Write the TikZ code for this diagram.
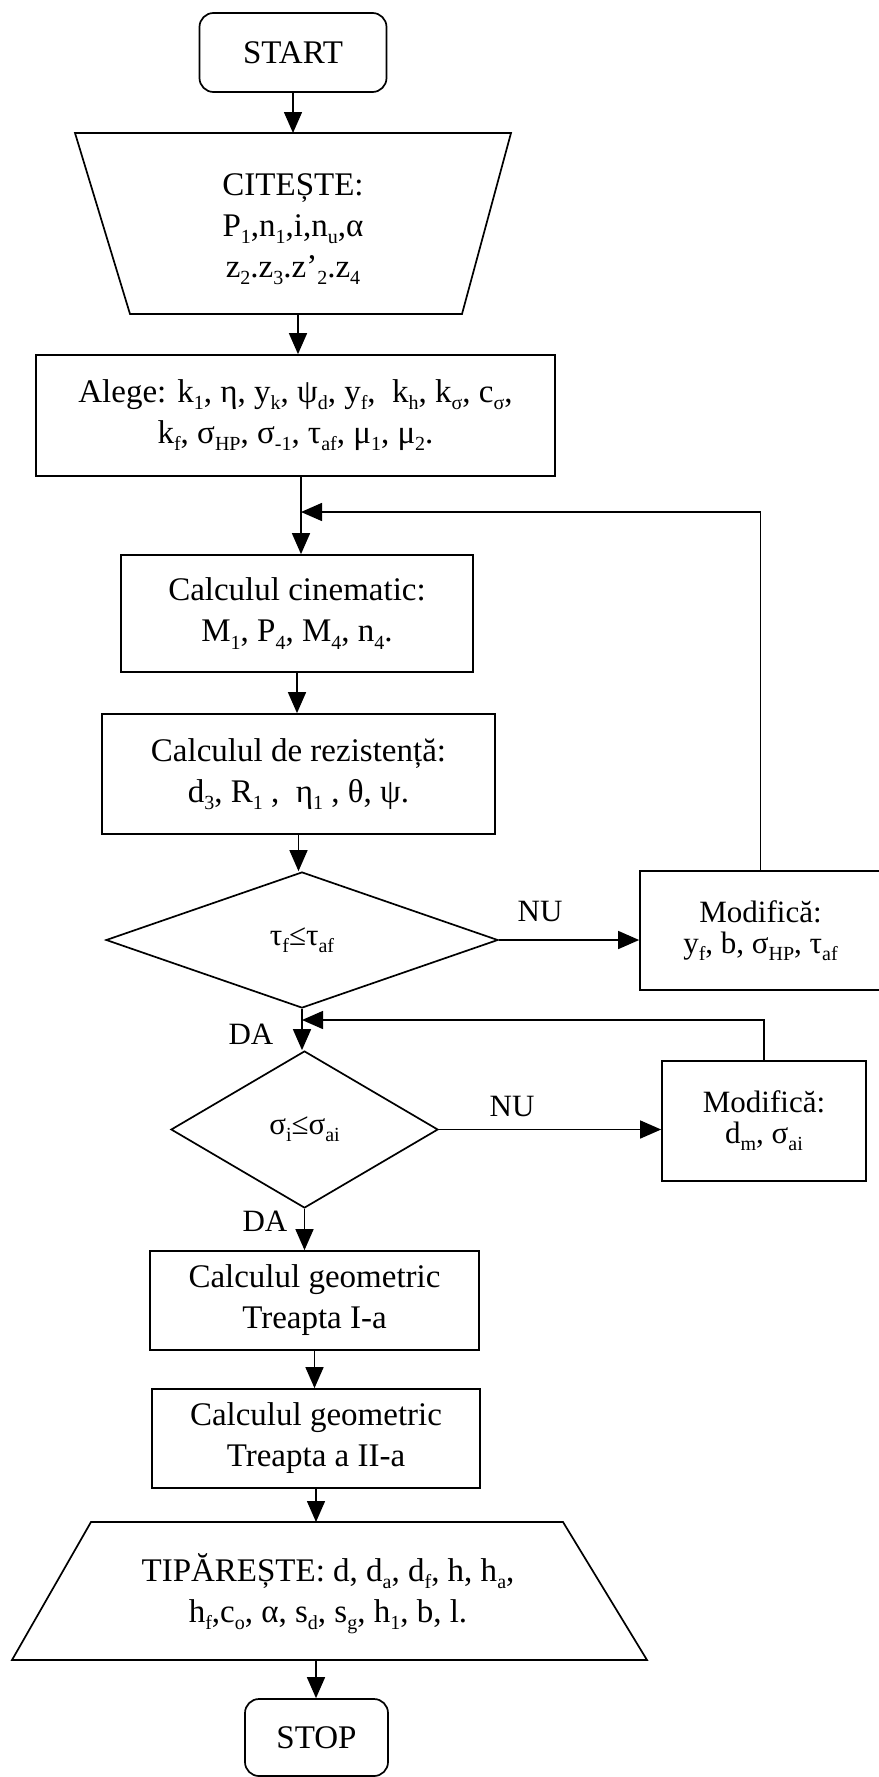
\documentclass[tikz,border=0pt]{standalone}
\usepackage{fontspec}
\setmainfont{Liberation Serif}
\usetikzlibrary{shapes.geometric,arrows.meta}
% text sizes
\newcommand\mainsz{\fontsize{33}{41}\selectfont}
\newcommand\lblsz{\fontsize{31}{31}\selectfont}
% lowered index in a smaller size
\newcommand\ix[1]{\raisebox{-0.22em}{\fontsize{20}{20}\selectfont #1}}

\begin{document}
\begin{tikzpicture}[x=1pt,y=-1pt,
  box/.style={draw,line width=1.7pt,rectangle,inner sep=0pt,align=center,font=\mainsz},
  term/.style={box,rounded corners=14pt},
  decision/.style={draw,line width=1.7pt,diamond,inner sep=0pt,align=center,font=\lblsz},
  io/.style={draw,line width=1.7pt,line join=miter},
  txt/.style={inner sep=0pt,align=center,font=\mainsz},
  lbl/.style={inner sep=0pt,font=\lblsz},
  wire/.style={line width=1.5pt},
  flow/.style={line width=1.5pt,-{Triangle[length=21pt,width=18pt]}}]

\useasboundingbox (0,0) rectangle (878,1777);

% start terminal
\node[term,minimum width=187pt,minimum height=79pt] (start) at (293,52.5) {START};

% input trapezoid
\draw[io] (75,133) -- (511,133) -- (462,314) -- (130,314) -- cycle;
\coordinate (citN) at (293,133);
\coordinate (citS) at (298,314);
\node[txt] (cit) at (293,229) {CITEȘTE:\\ P\ix{1},n\ix{1},i,n\ix{u},α\\ z\ix{2}.z\ix{3}.z’\ix{2}.z\ix{4}};

% processing boxes
\node[box,minimum width=519pt,minimum height=121pt] (alege) at (295.5,415.5)
  {Alege: k\ix{1}, η, y\ix{k}, ψ\ix{d}, y\ix{f},\ \ k\ix{h}, k\ix{σ}, c\ix{σ},\\ k\ix{f}, σ\ix{HP}, σ\ix{-1}, τ\ix{af}, μ\ix{1}, μ\ix{2}.};
\coordinate (j1) at (301,512);
\node[box,minimum width=352pt,minimum height=117pt] (cin) at (297,613.5)
  {Calculul cinematic:\\ M\ix{1}, P\ix{4}, M\ix{4}, n\ix{4}.};
\node[box,minimum width=393pt,minimum height=120pt] (rez) at (298.5,774)
  {Calculul de rezistență:\\ d\ix{3}, R\ix{1} ,\ \ η\ix{1} , θ, ψ.};

% first test
\node[decision,aspect=2.9,minimum width=392pt,minimum height=136pt] (d1) at (302,940) {τ\ix{f}≤τ\ix{af}};
\node[box,minimum width=241pt,minimum height=119pt,font=\lblsz] (mod1) at (760.5,930.5)
  {Modifică:\\ y\ix{f}, b, σ\ix{HP}, τ\ix{af}};
\coordinate (j2) at (302,1020);

% second test
\node[decision,aspect=1.7,minimum width=267pt,minimum height=157pt] (d2) at (304.5,1129.5) {σ\ix{i}≤σ\ix{ai}};
\node[box,minimum width=204pt,minimum height=120pt,font=\lblsz] (mod2) at (764,1121)
  {Modifică:\\ d\ix{m}, σ\ix{ai}};

% geometry boxes
\node[box,minimum width=329pt,minimum height=99pt] (g1) at (314.5,1300.5)
  {Calculul geometric\\ Treapta I-a};
\node[box,minimum width=328pt,minimum height=99pt] (g2) at (316,1438.5)
  {Calculul geometric\\ Treapta a II-a};

% output trapezoid
\draw[io] (91,1522) -- (563,1522) -- (647,1660) -- (12,1660) -- cycle;
\coordinate (tipN) at (316,1522);
\coordinate (tipS) at (316,1660);
\node[txt] (tip) at (328,1594)
  {TIPĂREȘTE: d, d\ix{a}, d\ix{f}, h, h\ix{a},\\ h\ix{f},c\ix{o}, α, s\ix{d}, s\ix{g}, h\ix{1}, b, l.};

% stop terminal
\node[term,minimum width=143pt,minimum height=77pt] (stop) at (316.5,1737.5) {STOP};

% main flow, drawn straight down from each source
\draw[flow] (start.south) -- (start.south |- citN);
\draw[flow] (citS) -- (citS |- alege.north);
\draw[wire] (j1 |- alege.south) -- (j1);
\draw[flow] (j1) -- (j1 |- cin.north);
\draw[flow] (cin.south) -- (cin.south |- rez.north);
\draw[flow] (rez.south) -- (rez.south |- d1.north);
\draw[wire] (d1.south) -- (j2);
\draw[flow] (j2) -- (j2 |- d2.north);
\draw[flow] (d2.south) -- (d2.south |- g1.north);
\draw[flow] (g1.south) -- (g1.south |- g2.north);
\draw[flow] (g2.south) -- (g2.south |- tipN);
\draw[flow] (tipS) -- (tipS |- stop.north);

% branches and loops back
\draw[flow] (d1.east) -- (d1.east -| mod1.west);
\draw[flow] (mod1.north) -- (mod1.north |- j1) -- (j1);
\draw[flow] (d2.east) -- (d2.east -| mod2.west);
\draw[flow] (mod2.north) -- (mod2.north |- j2) -- (j2);

% branch labels
\node[lbl] (nu1) at (540,911) {NU};
\node[lbl] (nu2) at (512,1106) {NU};
\node[lbl] (da1) at (251,1034) {DA};
\node[lbl] (da2) at (265,1221) {DA};
\end{tikzpicture}
\end{document}
